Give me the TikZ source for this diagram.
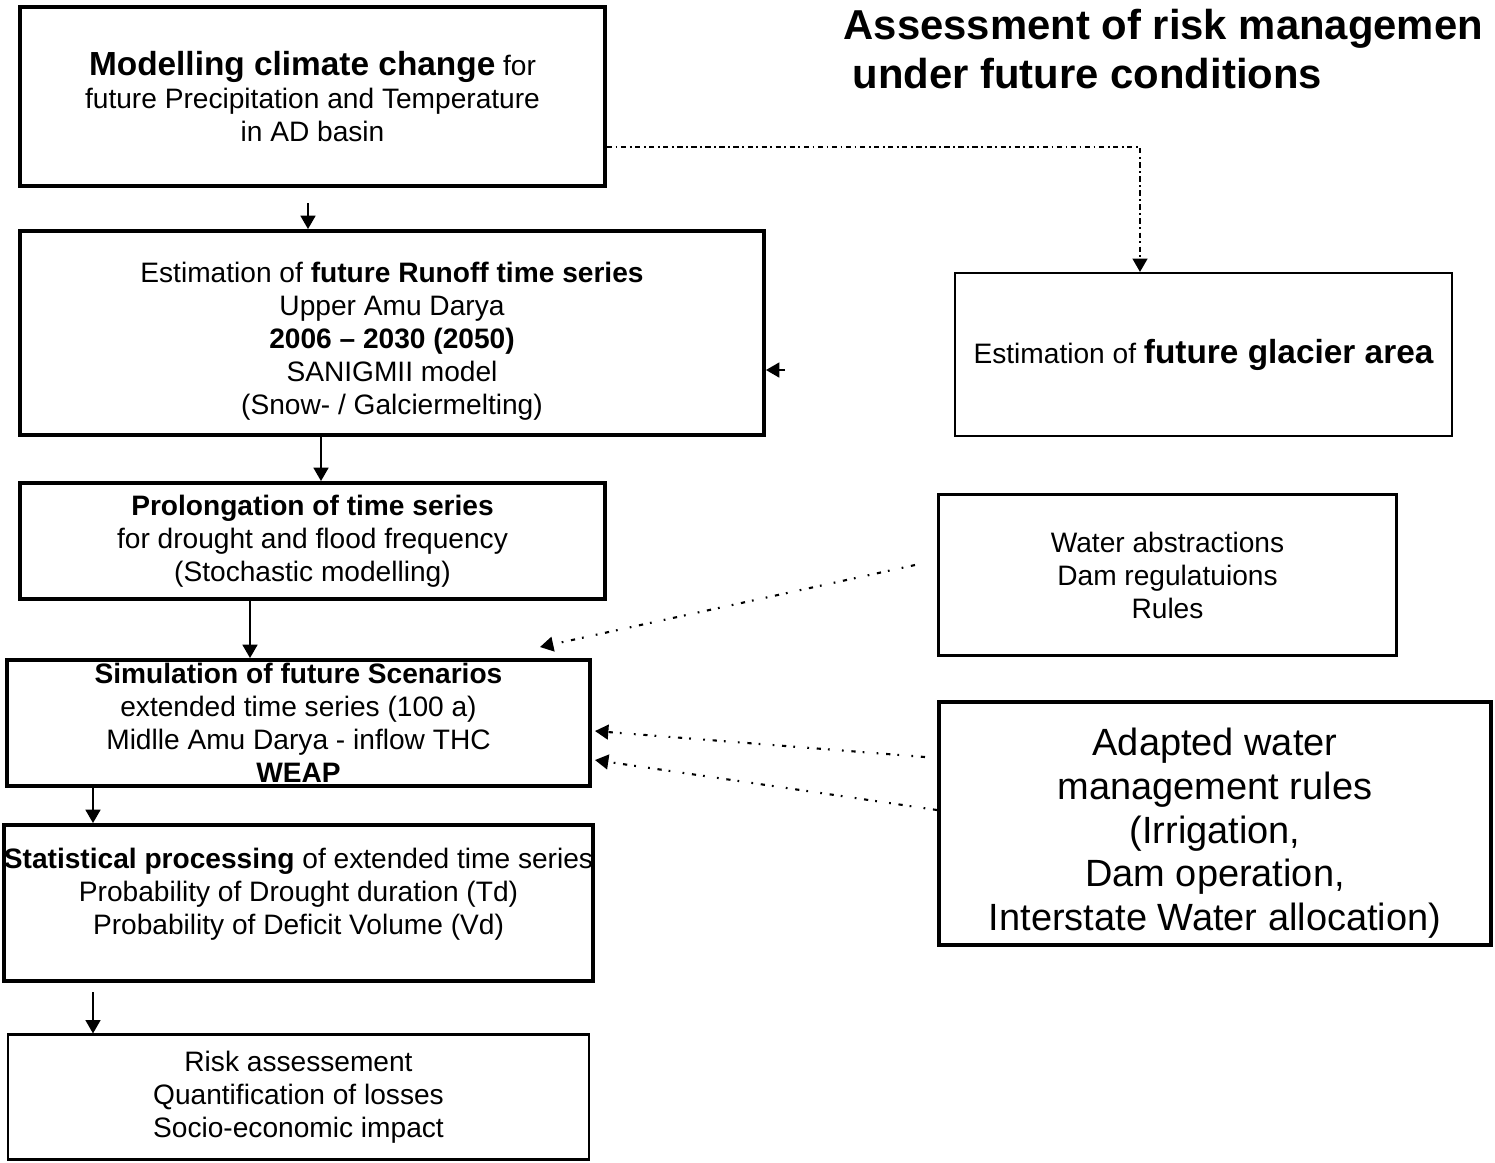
\documentclass[tikz,border=0pt]{standalone}
\usepackage{fontspec}
\setmainfont{Liberation Sans}
\usetikzlibrary{arrows.meta, calc}

\begin{document}
\begin{tikzpicture}[>={Triangle[width=4.2pt,length=3.8pt]}, font=\fontsize{8}{9.4}\selectfont,
    box/.style={draw, line width=1.1pt, align=center, inner sep=0pt},
    thinbox/.style={box, line width=0.6pt},
    arr/.style={->, line width=0.6pt},
    dashdot/.style={arr, dash pattern=on 1.5pt off 1pt on 0.5pt off 1pt},
    dotted link/.style={arr, dash pattern=on 1.2pt off 2.2pt on 0.5pt off 3.5pt on 0.5pt off 2pt}]

    % --- 1. Page Frame ---
    \useasboundingbox (0,0) rectangle (14.95,-11.62);

    % --- 2. Title ---
    \node[anchor=north west, align=left, inner sep=0pt, font=\fontsize{11.9}{14.2}\selectfont\bfseries] (title) at (8.43,-0.08)
        {Assessment of risk managemen\\\hspace*{0.9mm}under future conditions};

    % --- 3. Left Column: Main Chain ---
    \node[box, minimum width=5.85cm, minimum height=1.79cm] (clim) at (3.125,-0.965)
        {{\fontsize{9.5}{9.4}\selectfont\bfseries Modelling climate change} for\\
         future Precipitation and Temperature\\in AD basin};

    \node[box, minimum width=7.44cm, minimum height=2.04cm] (runoff) at (3.92,-3.33)
        {\\[1pt]Estimation of \textbf{future Runoff time series}\\Upper Amu Darya\\
         \textbf{2006 -- 2030 (2050)}\\SANIGMII model\\(Snow- / Galciermelting)};

    \node[box, minimum width=5.85cm, minimum height=1.16cm] (prolong) at (3.125,-5.41)
        {\textbf{Prolongation of time series}\\for drought and flood frequency\\(Stochastic modelling)};

    \node[box, minimum width=5.83cm, minimum height=1.26cm] (sim) at (2.985,-7.23)
        {\textbf{Simulation of future Scenarios}\\extended time series (100 a)\\
         Midlle Amu Darya - inflow THC\\\textbf{WEAP}};

    \node[box, minimum width=5.83cm, minimum height=1.56cm] (stat) at (2.985,-9.03)
        {\textbf{Statistical processing} of extended time series\\
         Probability of Drought duration (Td)\\Probability of Deficit Volume (Vd)\\[-5.4pt]\strut};

    \node[thinbox, minimum width=5.81cm, minimum height=1.25cm] (risk) at (2.985,-10.97)
        {Risk assessement\\Quantification of losses\\Socio-economic impact};

    % --- 4. Right Column: Inputs ---
    \node[thinbox, minimum width=4.97cm, minimum height=1.63cm] (glacier) at (12.035,-3.545)
        {Estimation of {\fontsize{9.5}{9.4}\selectfont\bfseries future glacier area}};

    \node[box, line width=0.9pt, minimum width=4.58cm, minimum height=1.61cm] (abstr) at (11.675,-5.75)
        {Water abstractions\\Dam regulatuions\\Rules};

    \node[box, minimum width=5.52cm, minimum height=2.43cm, font=\fontsize{10.8}{12.45}\selectfont] (rules) at (12.15,-8.235)
        {\\[1pt]Adapted water\\management rules\\(Irrigation,\\Dam operation,\\Interstate Water allocation)};

    % --- 5. Arrows Down the Chain ---
    \coordinate (c1) at (3.08,-2.03);
    \coordinate (c2) at (3.21,0);
    \coordinate (c3) at (2.50,0);
    \coordinate (c4) at (0.93,0);
    \coordinate (c5) at (0.93,-9.92);

    \draw[arr] (c1) -- (c1 |- runoff.north);
    \draw[arr] (runoff.south -| c2) -- (prolong.north -| c2);
    \draw[arr] (prolong.south -| c3) -- (sim.north -| c3);
    \draw[arr] (sim.south -| c4) -- (stat.north -| c4);
    \draw[arr] (c5) -- (risk.north -| c5);

    % --- 6. Side Links ---
    \coordinate (bend) at (11.40,-1.47);
    \draw[dashdot] (clim.east |- bend) -- (bend) -- (bend |- glacier.north);

    \coordinate (gl) at (7.85,-3.70);
    \draw[arr] (gl) -- (gl -| runoff.east);

    \coordinate (wa) at (9.15,-5.65);
    \coordinate (wb) at (5.40,-6.47);
    \draw[dotted link] (wa) -- (wb);

    \coordinate (ra) at (9.25,-7.57);
    \coordinate (rb) at (5.95,-7.31);
    \coordinate (rc) at (5.95,-7.60);
    \draw[dotted link] (ra) -- (rb);
    \draw[dotted link] (rules.west |- 0,-8.10) -- (rc);

\end{tikzpicture}
\end{document}
